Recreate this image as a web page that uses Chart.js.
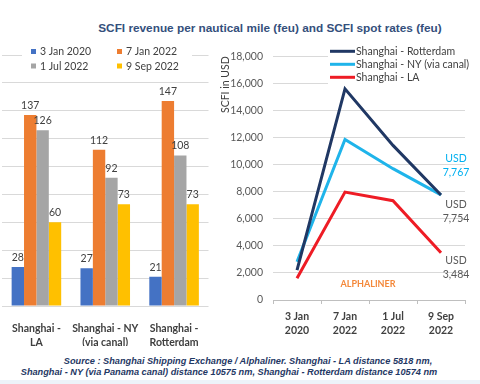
<!DOCTYPE html>
<html><head><meta charset="utf-8">
<script src="https://cdn.jsdelivr.net/npm/chart.js@4/dist/chart.umd.min.js"></script>
<style>
html,body{margin:0;padding:0;background:#fff;width:480px;height:384px;overflow:hidden;position:relative;}
#title{position:absolute;left:30px;width:480px;top:21px;text-align:center;font:bold 11.8px "Liberation Sans",Arial,sans-serif;color:#344f7c;white-space:nowrap;}
.src{position:absolute;width:500px;text-align:center;font:italic bold 9.2px "Liberation Sans",Arial,sans-serif;line-height:11px;color:#1f3864;white-space:nowrap;}
#s1{left:-2px;top:356px;}
#s2{left:-21px;top:367px;}
#band{position:absolute;left:0;top:380px;width:480px;height:4px;background:#edf3f9;}
#c1{position:absolute;left:0;top:40px;}
#c2{position:absolute;left:210px;top:40px;}
</style></head><body>
<div id="title">SCFI revenue per nautical mile (feu) and SCFI spot rates (feu)</div>
<canvas id="c1" width="224" height="306"></canvas>
<canvas id="c2" width="270" height="300"></canvas>
<div class="src" id="s1">Source : Shanghai Shipping Exchange / Alphaliner. Shanghai - LA distance 5818 nm,</div>
<div class="src" id="s2">Shanghai - NY (via Panama canal) distance 10575 nm, Shanghai - Rotterdam distance 10574 nm</div>
<div id="band"></div>
<script>
// ---- data: left chart (revenue per nautical mile) ----
const routes = [["Shanghai -","LA"],["Shanghai - NY","(via canal)"],["Shanghai -","Rotterdam"]];
const seriesNames = ["3 Jan 2020","7 Jan 2022","1 Jul 2022","9 Sep 2022"];
const rev3Jan2020 = [28, 27, 21];
const rev7Jan2022 = [137, 112, 147];
const rev1Jul2022 = [126, 92, 108];
const rev9Sep2022 = [60, 73, 73];
const revTicksMax = 180;

// ---- data: right chart (spot rates) ----
const dates = [["3 Jan","2020"],["7 Jan","2022"],["1 Jul","2022"],["9 Sep","2022"]];
const lineNames = ["Shanghai - Rotterdam","Shanghai - NY (via canal)","Shanghai - LA"];
const rateRotterdam = [2200, 15594, 11420, 7754];
const rateNY = [2820, 11850, 9700, 7767];
const rateLA = [1610, 7970, 7330, 3484];
const rateMax = 18000, rateStep = 2000;

const FONT = "Lato, 'Open Sans', sans-serif";
const TXT = "#404040";
const GRID = "#d9d9d9";

// left chart legend + labels
const leftLegend = {
  id:'leftLegend',
  beforeDatasetsDraw(chart){
    const ctx=chart.ctx, ca=chart.chartArea;
    ctx.save();
    ctx.fillStyle='#fff';
    ctx.fillRect(ca.left+20, ca.top-6, 170, 24);
    ctx.font="10.5px "+FONT; ctx.textBaseline='middle';
    chart.data.datasets.forEach((ds,i)=>{
      const col=i%2, row=Math.floor(i/2);
      const x=ca.left+29+col*86, y=ca.top-3.5+row*14.5;
      ctx.fillStyle=ds.backgroundColor; ctx.fillRect(x,y-2.5,5,5);
      ctx.fillStyle=TXT; ctx.fillText(ds.label,x+9,y+0.5);
    });
    ctx.restore();
  },
  afterDatasetsDraw(chart){
    const ctx=chart.ctx;
    ctx.save(); ctx.font="10.5px "+FONT; ctx.fillStyle=TXT; ctx.textAlign='center'; ctx.textBaseline='middle';
    chart.data.datasets.forEach((ds,i)=>{
      chart.getDatasetMeta(i).data.forEach((bar,j)=>{
        ctx.fillText(String(ds.data[j]), bar.x, bar.y-9.5);
      });
    });
    ctx.restore();
  }
};

new Chart(document.getElementById('c1'),{
  type:'bar',
  data:{labels:routes,datasets:[
    {label:seriesNames[0],data:rev3Jan2020,backgroundColor:'#4472c4'},
    {label:seriesNames[1],data:rev7Jan2022,backgroundColor:'#ed7d31'},
    {label:seriesNames[2],data:rev1Jul2022,backgroundColor:'#a5a5a5'},
    {label:seriesNames[3],data:rev9Sep2022,backgroundColor:'#ffc000'}
  ]},
  options:{
    responsive:false,animation:false,
    categoryPercentage:0.72,barPercentage:1.0,
    layout:{padding:{left:2,right:15.5,top:15,bottom:0}},
    plugins:{legend:{display:false},tooltip:{enabled:false}},
    scales:{
      x:{grid:{display:false},border:{display:false},
         ticks:{color:TXT,font:{family:FONT,size:10.5,weight:'bold',lineHeight:1.4},padding:7,maxRotation:0,autoSkip:false},
         afterFit(s){s.height=40;}},
      y:{min:0,max:revTicksMax,ticks:{display:false,stepSize:20},
         grid:{color:GRID,drawTicks:false},border:{display:false},
         afterFit(s){s.width=0;}}
    }
  },
  plugins:[leftLegend]
});

// right chart legend + annotations
const rightExtras = {
  id:'rightExtras',
  beforeDatasetsDraw(chart){
    const ctx=chart.ctx, ca=chart.chartArea;
    ctx.save();
    ctx.fillStyle='#fff';
    ctx.fillRect(ca.left+55, ca.top-10, 140, 38);
    ctx.font="10.5px "+FONT; ctx.textBaseline='middle';
    chart.data.datasets.forEach((ds,i)=>{
      const x=ca.left+57, y=ca.top-5+i*13;
      ctx.strokeStyle=ds.borderColor; ctx.lineWidth=3;
      ctx.beginPath(); ctx.moveTo(x,y); ctx.lineTo(x+25,y); ctx.stroke();
      ctx.fillStyle=TXT; ctx.fillText(ds.label,x+26,y+0.5);
    });
    ctx.restore();
  },
  afterDatasetsDraw(chart){
    const ctx=chart.ctx, ca=chart.chartArea;
    const xs=chart.scales.x, ys=chart.scales.y;
    const last=dates.length-1;
    const fmt=v=>v.toLocaleString('en-US');
    ctx.save(); ctx.font="10.5px "+FONT; ctx.textAlign='center'; ctx.textBaseline='middle';
    const px=xs.getPixelForValue(last)+15;
    const items=[
      {v:rateNY[last],dy:[-36,-22],c:'#00b0f0'},
      {v:rateRotterdam[last],dy:[10,24],c:'#595959'},
      {v:rateLA[last],dy:[8,22],c:'#595959'}
    ];
    items.forEach(it=>{
      const py=ys.getPixelForValue(it.v);
      ctx.fillStyle=it.c;
      ctx.fillText('USD',px,py+it.dy[0]);
      ctx.fillText(fmt(it.v),px,py+it.dy[1]);
    });
    ctx.font="bold 9px "+FONT; ctx.fillStyle='#f4883a';
    ctx.fillText('ALPHALINER', ca.left+95, ca.bottom-16);
    ctx.restore();
  }
};

new Chart(document.getElementById('c2'),{
  type:'line',
  data:{labels:dates,datasets:[
    {label:lineNames[0],data:rateRotterdam,borderColor:'#203864',backgroundColor:'#203864'},
    {label:lineNames[1],data:rateNY,borderColor:'#1fb4ea',backgroundColor:'#1fb4ea'},
    {label:lineNames[2],data:rateLA,borderColor:'#ee1c25',backgroundColor:'#ee1c25'}
  ]},
  options:{
    responsive:false,animation:false,
    elements:{line:{borderWidth:3,tension:0},point:{radius:0}},
    layout:{padding:{left:0,right:15,top:12,bottom:0}},
    plugins:{legend:{display:false},tooltip:{enabled:false}},
    scales:{
      x:{offset:true,grid:{offset:true,drawOnChartArea:false,drawTicks:true,tickLength:4,color:'#bfbfbf'},
         border:{display:true,color:'#bfbfbf'},
         ticks:{color:TXT,font:{family:FONT,size:10.5,weight:'bold',lineHeight:1.4},padding:5,maxRotation:0,autoSkip:false},
         afterFit(s){s.height=40;}},
      y:{min:0,max:rateMax,
         ticks:{stepSize:rateStep,color:'#595959',font:{family:FONT,size:10.5},padding:10,
                callback:v=>v.toLocaleString('en-US')},
         grid:{color:GRID,drawTicks:false},border:{display:false},
         title:{display:true,text:'SCFI in USD',align:'end',color:TXT,font:{family:FONT,size:10.5},padding:{top:9,bottom:0}},
         afterFit(s){s.width=63;}}
    }
  },
  plugins:[rightExtras]
});
</script>
</body></html>
